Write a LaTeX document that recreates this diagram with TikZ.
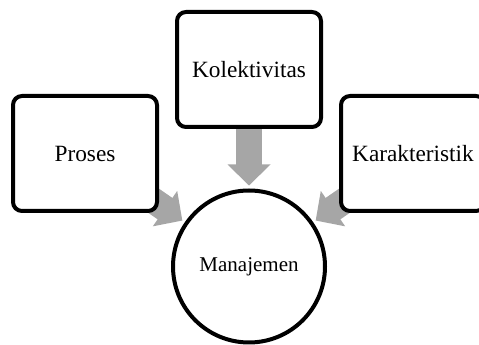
\documentclass[tikz,border=0pt]{standalone}
\usepackage{fontspec}
\setmainfont{Liberation Serif}
\usetikzlibrary{calc,backgrounds}
\definecolor{arrowgray}{HTML}{A6A6A6}
\tikzset{
  box/.style={draw=black, line width=4pt, fill=white, rounded corners=9pt,
    minimum width=144pt, minimum height=115pt, inner sep=0pt,
    font=\fontsize{23.3}{28}\selectfont},
  circ/.style={draw=black, line width=4pt, fill=white, circle,
    minimum size=152pt, inner sep=0pt, font=\fontsize{21}{25}\selectfont},
  shaft/.style={draw=arrowgray, line width=26pt},
  head/.style={fill=arrowgray}
}
\newcommand{\fatarrow}[2]{%
  \coordinate (tip#1) at ($(man.center)!81pt!(#2.center)$);
  \coordinate (hb#1) at ($(tip#1)!21pt!(#2.center)$);
  \coordinate (hs#1) at ($(tip#1)!19pt!(#2.center)$);
  \draw[shaft] (hs#1) -- (#2.center);
  \fill[head] (tip#1) -- ($(hb#1)!21.5pt!90:(#2.center)$) -- ($(hb#1)!21.5pt!-90:(#2.center)$) -- cycle;
}
\begin{document}
\begin{tikzpicture}[x=1pt,y=1pt]
\path[use as bounding box, clip] (0,0) rectangle (479,345);
\node[box] (kol) at (249,275.5) {Kolektivitas};
\node[box] (prs) at (85,191.5) {Proses};
\node[box] (kar) at (413,191.5) {Karakteristik};
\node[circ] (man) at (249,78.5) {Manajemen};
\begin{scope}[on background layer]
  \fatarrow{a}{kol}
  \fatarrow{b}{prs}
  \fatarrow{c}{kar}
\end{scope}
\end{tikzpicture}
\end{document}
